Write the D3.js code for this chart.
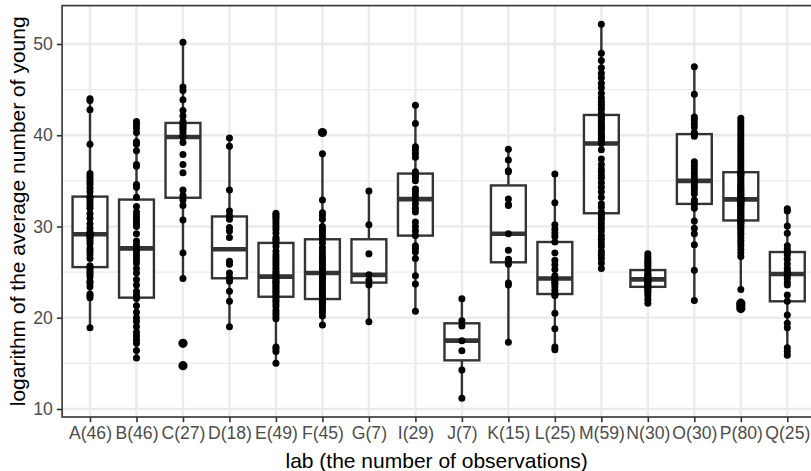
<!DOCTYPE html>
<html><head><meta charset="utf-8">
<script src="https://cdn.jsdelivr.net/npm/d3@7"></script>
<style>body{margin:0;background:#fff;overflow:hidden}</style></head>
<body><svg id="c" width="811" height="471"></svg>
<script>
const labs = ["A","B","C","D","E","F","G","I","J","K","L","M","N","O","P","Q"];
const labA = [18.9,22.2,22.4,22.6,23.4,23.8,24.0,24.5,24.8,25.0,25.3,25.5,25.7,26.5,26.9,27.3,27.6,28.1,28.4,28.7,28.9,29.0,29.1,29.2,29.4,29.8,30.3,30.9,31.4,32.0,32.3,32.6,32.9,33.2,33.3,33.8,34.2,34.6,34.9,35.2,35.5,35.8,39.0,42.8,43.8,44.0];
const labB = [15.6,16.4,17.2,17.6,18.0,18.4,19.0,19.6,20.0,20.6,21.3,22.1,22.5,22.9,23.6,24.2,24.9,25.4,26.0,26.4,26.8,27.2,27.5,27.7,28.0,28.4,29.2,30.0,30.3,30.6,30.9,31.2,31.6,32.2,33.2,34.3,34.6,36.6,36.8,38.3,39.0,39.3,40.3,40.8,41.2,41.5];
const labC = [14.75,17.2,24.3,27.1,30.7,32.3,32.9,33.4,34.0,35.9,36.8,37.9,39.2,39.8,40.0,40.3,40.6,40.8,41.0,41.2,41.5,42.1,42.7,43.9,44.9,45.3,50.2];
const labD = [19.0,21.8,22.9,24.0,24.3,24.4,24.9,25.85,26.2,28.8,29.5,29.9,30.8,31.2,31.7,34.0,38.8,39.7];
const labE = [15.0,16.3,16.6,16.8,19.9,20.2,20.5,20.8,21.2,21.5,21.8,22.0,22.3,22.5,22.7,22.9,23.1,23.3,23.5,23.7,23.9,24.0,24.2,24.4,24.5,24.7,24.9,25.1,25.4,25.7,26.0,26.3,26.6,26.9,27.3,27.8,28.2,28.4,28.6,28.8,29.3,29.7,30.0,30.3,30.6,30.9,31.1,31.3,31.45];
const labF = [19.2,20.2,20.6,20.9,21.2,21.4,21.6,21.7,21.8,21.9,22.0,22.05,22.3,22.6,22.9,23.2,23.5,23.8,24.1,24.3,24.5,24.7,24.9,25.1,25.4,25.7,26.0,26.3,26.6,26.9,27.3,27.7,28.2,28.6,28.8,29.1,29.4,29.7,30.0,30.8,31.2,31.5,32.9,37.98,40.3];
const labG = [19.57,23.6,24.1,24.7,27.0,30.2,33.9];
const labI = [20.7,23.7,24.6,26.5,27.2,27.6,27.9,29.0,29.5,30.0,30.5,31.6,32.0,32.5,33.0,33.4,33.8,34.1,35.0,35.4,35.6,35.8,36.0,37.6,38.0,38.4,38.75,41.3,43.3];
const labJ = [11.17,14.27,16.39,17.49,19.1,19.68,22.09];
const labK = [17.3,23.6,23.8,25.85,26.3,26.4,27.4,29.2,32.3,32.4,33.0,36.0,36.1,37.3,38.46];
const labL = [16.5,16.8,18.8,20.5,22.45,22.55,22.6,23.0,23.4,23.7,23.9,24.1,24.3,24.6,25.3,25.8,26.3,27.1,28.3,28.9,29.3,29.7,30.2,32.6,35.75];
const labM = [25.4,26.0,26.5,26.9,27.3,27.8,28.2,28.6,29.0,29.5,29.9,30.3,30.7,31.0,31.3,31.6,32.1,32.5,33.2,33.8,34.3,34.8,35.3,35.6,36.0,36.3,36.8,37.4,38.4,39.1,39.4,39.6,39.8,40.0,40.2,40.5,40.7,40.9,41.1,41.3,41.6,41.8,42.0,42.1,42.35,42.8,43.1,43.4,43.7,44.1,44.6,45.2,45.7,46.3,46.8,47.4,48.2,49.0,52.16];
const labN = [21.6,22.0,22.4,22.7,22.9,23.1,23.25,23.35,23.5,23.6,23.75,23.9,24.0,24.1,24.15,24.25,24.35,24.5,24.6,24.75,24.9,25.15,25.25,25.6,25.8,26.0,26.2,26.4,26.7,27.0];
const labO = [21.9,25.2,28.0,29.2,29.8,30.6,32.0,32.4,32.7,32.9,33.6,34.0,34.3,34.6,34.9,35.1,35.5,35.9,36.3,36.7,37.1,39.9,40.2,40.3,40.9,41.3,41.7,42.0,44.5,47.5];
const labP = [21.0,21.3,21.6,23.1,26.7,27.1,27.5,27.9,28.2,28.5,28.8,29.1,29.3,29.6,29.8,30.0,30.2,30.35,30.45,30.55,30.7,30.85,31.0,31.15,31.3,31.45,31.6,31.75,31.9,32.05,32.2,32.3,32.4,32.5,32.6,32.7,32.8,32.85,32.9,32.95,33.0,33.1,33.2,33.35,33.5,33.65,33.8,33.95,34.1,34.25,34.4,34.6,34.8,35.0,35.2,35.4,35.6,35.7,35.8,35.9,36.1,36.4,36.7,37.0,37.3,37.6,37.9,38.2,38.5,38.8,39.1,39.4,39.7,40.0,40.3,40.6,40.9,41.2,41.5,41.86];
const labQ = [15.9,16.3,16.7,18.9,19.4,20.3,21.8,22.5,23.6,23.9,24.3,24.6,24.8,25.1,25.4,25.9,26.4,26.9,27.2,27.5,27.9,29.25,30.05,31.7,31.95];
const values = [labA,labB,labC,labD,labE,labF,labG,labI,labJ,labK,labL,labM,labN,labO,labP,labQ];
const yMajor = [10,20,30,40,50];
const yMinor = [15,25,35,45];
const xTitle = "lab (the number of observations)";
const yTitle = "logarithm of the average number of young";

const groups = labs.map((l,i)=>({lab:l, label:`${l}(${values[i].length})`, vals:values[i].slice().sort(d3.ascending)}));
groups.forEach(g=>{
  const v=g.vals;
  g.q1=d3.quantile(v,0.25); g.med=d3.quantile(v,0.5); g.q3=d3.quantile(v,0.75);
  const iqr=g.q3-g.q1, lo=g.q1-1.5*iqr, hi=g.q3+1.5*iqr;
  const inside=v.filter(d=>d>=lo&&d<=hi);
  g.wlo=d3.min(inside); g.whi=d3.max(inside);
  g.out=v.filter(d=>d<lo||d>hi);
});

const all = values.flat();
const [mn,mx] = d3.extent(all);
const pad = (mx-mn)*0.05;
const L=62.1, R=815.2, T=5.6, B=417;
const y = d3.scaleLinear().domain([mn-pad, mx+pad]).range([B,T]);
const x = d3.scalePoint().domain(groups.map(g=>g.label)).range([L,R]).padding(0.6);
const bw = x.step()*0.75;
const FONT = "Liberation Sans, Arial, sans-serif";

const svg = d3.select("#c");
svg.append("rect").attr("width",811).attr("height",471).attr("fill","#fff");
const grid = svg.append("g");
grid.selectAll(".mi").data(yMinor).join("line").attr("x1",L).attr("x2",R).attr("y1",d=>y(d)).attr("y2",d=>y(d)).attr("stroke","#EBEBEB").attr("stroke-width",1.3);
grid.selectAll(".ma").data(yMajor).join("line").attr("x1",L).attr("x2",R).attr("y1",d=>y(d)).attr("y2",d=>y(d)).attr("stroke","#EBEBEB").attr("stroke-width",2.4);
grid.selectAll(".vx").data(groups).join("line").attr("x1",d=>x(d.label)).attr("x2",d=>x(d.label)).attr("y1",T).attr("y2",B).attr("stroke","#EBEBEB").attr("stroke-width",2.4);

const bx = svg.append("g").selectAll("g").data(groups).join("g");
bx.append("line").attr("x1",d=>x(d.label)).attr("x2",d=>x(d.label)).attr("y1",d=>y(d.whi)).attr("y2",d=>y(d.q3)).attr("stroke","#333").attr("stroke-width",2.4);
bx.append("line").attr("x1",d=>x(d.label)).attr("x2",d=>x(d.label)).attr("y1",d=>y(d.wlo)).attr("y2",d=>y(d.q1)).attr("stroke","#333").attr("stroke-width",2.4);
bx.append("rect").attr("x",d=>x(d.label)-bw/2).attr("width",bw).attr("y",d=>y(d.q3)).attr("height",d=>y(d.q1)-y(d.q3)).attr("fill","#fff").attr("stroke","#333").attr("stroke-width",2.4);
bx.append("line").attr("x1",d=>x(d.label)-bw/2).attr("x2",d=>x(d.label)+bw/2).attr("y1",d=>y(d.med)).attr("y2",d=>y(d.med)).attr("stroke","#333").attr("stroke-width",4.6);
bx.selectAll(".o").data(d=>d.out.map(v=>({g:d,v}))).join("circle").attr("cx",d=>x(d.g.label)).attr("cy",d=>y(d.v)).attr("r",4.6).attr("fill","#000");

svg.append("g").selectAll("g").data(groups).join("g").selectAll("circle").data(d=>d.vals.map(v=>({g:d,v}))).join("circle")
  .attr("cx",d=>x(d.g.label)).attr("cy",d=>y(d.v)).attr("r",3.5).attr("fill","#000");

svg.append("rect").attr("x",L).attr("y",T).attr("width",R-L).attr("height",B-T).attr("fill","none").attr("stroke","#333").attr("stroke-width",1.6);

const ya = svg.append("g").attr("transform",`translate(${L},0)`).call(d3.axisLeft(y).tickValues(yMajor).tickSize(5.2).tickPadding(4.2));
ya.select(".domain").remove();
ya.selectAll(".tick line").attr("stroke","#333").attr("stroke-width",1.6);
ya.selectAll(".tick text").attr("fill","#4D4D4D").style("font-family",FONT).style("font-size","17.6px");

const xa = svg.append("g").attr("transform",`translate(0,${B})`).call(d3.axisBottom(x).tickSize(5.2).tickPadding(4.2));
xa.select(".domain").remove();
xa.selectAll(".tick line").attr("stroke","#333").attr("stroke-width",1.6);
xa.selectAll(".tick text").attr("fill","#4D4D4D").style("font-family",FONT).style("font-size","17.6px");

svg.append("text").attr("x",(L+R)/2 - 2).attr("y",468).attr("text-anchor","middle").style("font-family",FONT).style("font-size","21px").attr("fill","#000").text(xTitle);
svg.append("text").attr("transform",`translate(25,${(T+B)/2}) rotate(-90)`).attr("text-anchor","middle").style("font-family",FONT).style("font-size","21px").attr("fill","#000").text(yTitle);
</script></body></html>
